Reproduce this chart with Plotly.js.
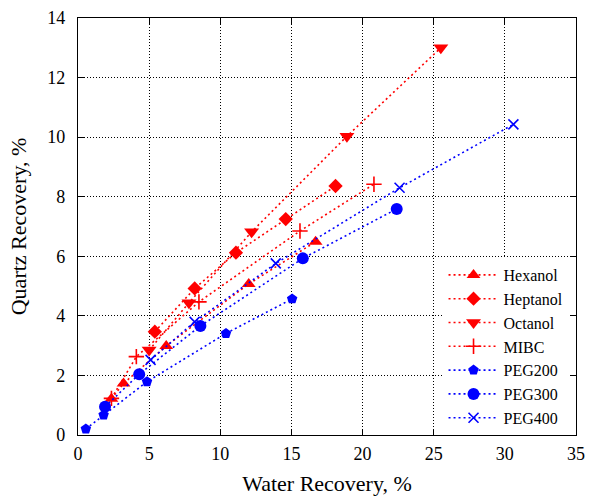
<!DOCTYPE html>
<html>
<head>
<meta charset="utf-8">
<script src="https://cdn.plot.ly/plotly-3.0.1.min.js"></script>
<style>html,body{margin:0;padding:0;background:#fff;}#chart{width:596px;height:496px;}</style>
</head>
<body>
<div id="chart"></div>
<script>
// Data
const seriesNames = ["Hexanol", "Heptanol", "Octanol", "MIBC", "PEG200", "PEG300", "PEG400"];

const hexanolX = [2.35, 3.2, 6.2, 12.0, 16.7];
const hexanolY = [1.22, 1.73, 2.99, 5.07, 6.49];

const heptanolX = [5.4, 8.2, 11.1, 14.6, 18.1];
const heptanolY = [3.47, 4.92, 6.12, 7.25, 8.36];

const octanolX = [5.0, 7.8, 12.2, 18.9, 25.5];
const octanolY = [2.85, 4.44, 6.82, 10.03, 13.0];

const mibcX = [2.35, 4.1, 8.5, 15.6, 20.8];
const mibcY = [1.23, 2.63, 4.47, 6.85, 8.42];

const peg200X = [0.55, 1.8, 4.85, 10.4, 15.05];
const peg200Y = [0.20, 0.67, 1.79, 3.41, 4.57];

const peg300X = [1.9, 4.3, 8.6, 15.8, 22.4];
const peg300Y = [0.95, 2.04, 3.66, 5.93, 7.59];

const peg400X = [5.1, 8.2, 13.9, 22.6, 30.6];
const peg400Y = [2.52, 3.80, 5.76, 8.30, 10.43];

const xTickVals = [0, 5, 10, 15, 20, 25, 30, 35];
const yTickVals = [0, 2, 4, 6, 8, 10, 12, 14];

const RED = "#ff0000", BLUE = "#0000ff";
const FONT = "Liberation Serif, Times New Roman, serif";

function tr(name, xs, ys, color, symbol, size, thin) {
  const m = {symbol: symbol, size: size, color: color};
  if (thin) m.line = {color: color, width: 1.6};
  return {
    type: "scatter", mode: "lines+markers", name: name, x: xs, y: ys,
    line: {color: color, width: 1.6, dash: "2px,3px"},
    marker: m
  };
}

const data = [
  tr(seriesNames[0], hexanolX, hexanolY, RED, "triangle-up", 12),
  tr(seriesNames[1], heptanolX, heptanolY, RED, "diamond", 11),
  tr(seriesNames[2], octanolX, octanolY, RED, "triangle-down", 13),
  tr(seriesNames[3], mibcX, mibcY, RED, "cross-thin", 11, true),
  tr(seriesNames[4], peg200X, peg200Y, BLUE, "pentagon", 11),
  tr(seriesNames[5], peg300X, peg300Y, BLUE, "circle", 12),
  tr(seriesNames[6], peg400X, peg400Y, BLUE, "x-thin", 10, true)
];

const axisCommon = {
  showline: true, linecolor: "#000", linewidth: 1.2, mirror: "ticks",
  ticks: "inside", ticklen: 6, tickcolor: "#000", tickwidth: 1,
  showgrid: true, gridcolor: "#000", griddash: "1px,2px", gridwidth: 1,
  zeroline: false, tickfont: {family: FONT, size: 18, color: "#000"}
};

const layout = {
  width: 596, height: 496,
  margin: {l: 78, r: 20, t: 18, b: 61},
  paper_bgcolor: "#fff", plot_bgcolor: "#fff",
  font: {family: FONT, color: "#000"},
  xaxis: Object.assign({}, axisCommon, {
    range: [0, 35], tickvals: xTickVals, ticklabelstandoff: 2,
    title: {text: "Water Recovery, %", font: {family: FONT, size: 22, color: "#000"}, standoff: 12}
  }),
  yaxis: Object.assign({}, axisCommon, {
    range: [0, 14], tickvals: yTickVals, ticklabelstandoff: 8,
    title: {text: "Quartz Recovery, %", font: {family: FONT, size: 22, color: "#000"}, standoff: 14}
  }),
  showlegend: true,
  legend: {
    x: 0.985, y: 0.0, xanchor: "right", yanchor: "bottom",
    bgcolor: "#fff", borderwidth: 0,
    font: {family: FONT, size: 16, color: "#000"},
    tracegroupgap: 0, itemwidth: 50
  }
};

Plotly.newPlot("chart", data, layout, {displayModeBar: false, staticPlot: true});
</script>
</body>
</html>
